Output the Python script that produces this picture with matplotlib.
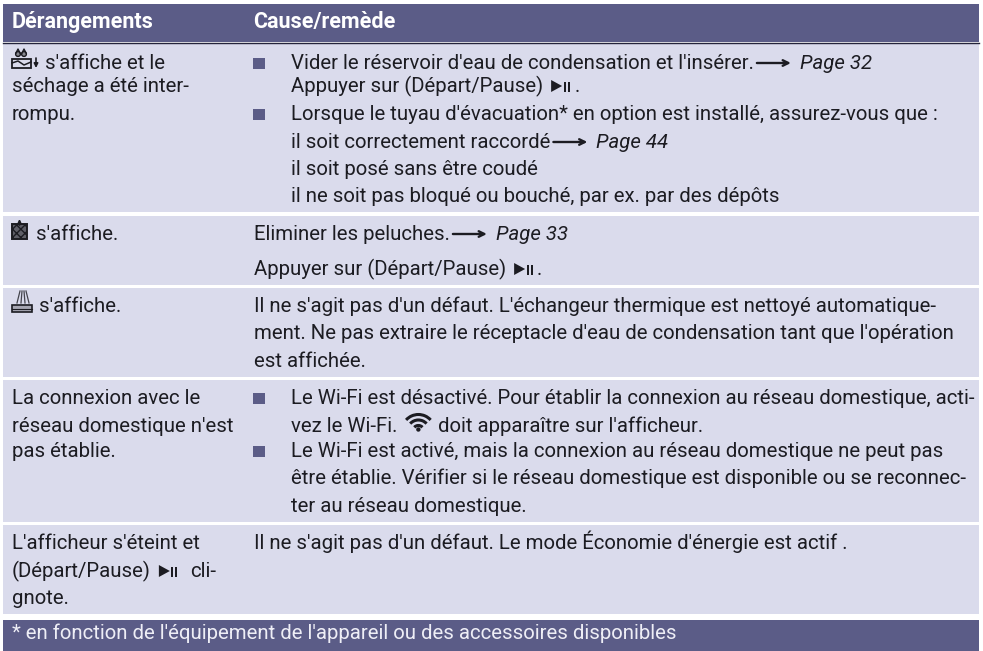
import matplotlib
matplotlib.use('Agg')
import matplotlib.pyplot as plt
from matplotlib.patches import Rectangle, Arc, Polygon, Circle

HEAD = '#5b5c87'
ROW = '#dadbec'
INK = '#1c1c22'
FONT = ['Roboto', 'Liberation Sans', 'DejaVu Sans']
SIZE = 14.7

headers = ['Dérangements', 'Cause/remède']
footnote = "* en fonction de l'équipement de l'appareil ou des accessoires disponibles"

# top and bottom of each table row
row_tops = [44, 216, 288, 380, 525]
row_bottoms = [212, 285, 377, 522, 614]

# first column: (baseline, text, x)
left_lines = [
    (69, "s'affiche et le", 45),
    (92, "séchage a été inter-", 12),
    (120, "rompu.", 12),
    (240, "s'affiche.", 36),
    (312, "s'affiche.", 39),
    (404, "La connexion avec le", 12),
    (432, "réseau domestique n'est", 12),
    (457, "pas établie.", 12),
    (549, "L'afficheur s'éteint et", 12),
    (604, "gnote.", 12),
]

# second column, x = 291 next to a bullet, 254 without
right_lines = [
    (120, "Lorsque le tuyau d'évacuation* en option est installé, assurez-vous que :", 291),
    (175, "il soit posé sans être coudé", 291),
    (202, "il ne soit pas bloqué ou bouché, par ex. par des dépôts", 291),
    (312, "Il ne s'agit pas d'un défaut. L'échangeur thermique est nettoyé automatique-", 254),
    (339, "ment. Ne pas extraire le réceptacle d'eau de condensation tant que l'opération", 254),
    (367, "est affichée.", 254),
    (404, "Le Wi-Fi est désactivé. Pour établir la connexion au réseau domestique, acti-", 291),
    (457, "Le Wi-Fi est activé, mais la connexion au réseau domestique ne peut pas", 291),
    (484, "être établie. Vérifier si le réseau domestique est disponible ou se reconnec-", 291),
    (512, "ter au réseau domestique.", 291),
    (549, "Il ne s'agit pas d'un défaut. Le mode Économie d'énergie est actif .", 254),
]

# lines ending in a cross reference: (baseline, text, x, page)
page_lines = [
    (69, "Vider le réservoir d'eau de condensation et l'insérer.", 291, 'Page 32'),
    (148, "il soit correctement raccordé", 291, 'Page 44'),
    (240, "Eliminer les peluches.", 254, 'Page 33'),
]

# lines with the start/pause sign: (baseline, before, x, after)
play_lines = [
    (92, "Appuyer sur (Départ/Pause)", 291, '.'),
    (275, "Appuyer sur (Départ/Pause)", 254, '.'),
    (577, "(Départ/Pause)", 12, 'cli-'),
]

bullet_y = [62, 113, 397, 450]

fig = plt.figure(figsize=(9.83, 6.51), dpi=100)
ax = fig.add_axes([0, 0, 1, 1])
ax.set_xlim(0, 983)
ax.set_ylim(651, 0)
ax.axis('off')
rend = fig.canvas.get_renderer()


def put(x, y, txt, **kw):
    t = ax.text(x, y, txt, color=kw.pop('color', INK), fontsize=kw.pop('fontsize', SIZE),
                family=FONT, **kw)
    return t.get_window_extent(rend).x1


ax.add_patch(Rectangle((3, 4), 976, 38, color=HEAD, lw=0))
ax.plot([3, 979], [42.5, 42.5], color='#23233a', lw=1)
for top, bottom in zip(row_tops, row_bottoms):
    ax.add_patch(Rectangle((3, top), 976, bottom - top, color=ROW, lw=0))
ax.add_patch(Rectangle((3, 620), 976, 31, color=HEAD, lw=0))

put(12, 28, headers[0], color='white', fontsize=15.5, fontweight='bold')
put(253, 28, headers[1], color='white', fontsize=15.5, fontweight='bold')

for y, txt, x in left_lines + right_lines:
    put(x, y, txt)

for y in bullet_y:
    ax.add_patch(Rectangle((253, y - 4), 12, 11, color=HEAD, lw=0))

for y, txt, x, page in page_lines:
    end = put(x, y, txt)
    ax.annotate('', xy=(end + 37, y - 6), xytext=(end + 3, y - 6),
                arrowprops=dict(arrowstyle='->', color=INK, lw=1.7, shrinkA=0, shrinkB=0))
    put(end + 46, y, page, style='italic')

# play/pause signs
for y, txt, x, after in play_lines:
    end = put(x, y, txt) + 8
    ax.add_patch(Polygon([(end, y - 12), (end, y), (end + 11, y - 6)], color=INK, lw=0))
    ax.add_patch(Rectangle((end + 12.5, y - 10), 2, 10, color=INK, lw=0))
    ax.add_patch(Rectangle((end + 16.5, y - 10), 2, 10, color=INK, lw=0))
    put(end + (23 if after == '.' else 31), y, after)

# display symbols in the first column
# condensate tank
ax.add_patch(Rectangle((12, 59), 19, 9, fc='none', ec=INK, lw=1.3))
ax.plot([12, 18, 24, 31], [63, 61, 65, 62], color=INK, lw=1.1)
for dx in (18, 24):
    ax.add_patch(Circle((dx, 54), 2.4, fc='#888890', ec=INK, lw=1))
    ax.plot([dx - 2, dx, dx + 2], [53, 49, 53], color=INK, lw=1)
ax.annotate('', xy=(36, 68), xytext=(36, 58),
            arrowprops=dict(arrowstyle='-|>', color=INK, lw=1.2, mutation_scale=6, shrinkA=0, shrinkB=0))
# filter
ax.add_patch(Rectangle((12, 224), 15, 15, fc='#5f5f68', ec=INK, lw=1.4, hatch='xxxx'))
ax.annotate('', xy=(19.5, 219), xytext=(19.5, 225),
            arrowprops=dict(arrowstyle='-|>', color=INK, lw=1.2, mutation_scale=6, shrinkA=0, shrinkB=0))
# heat exchanger
ax.add_patch(Rectangle((12, 305), 20, 7, fc='#a6a6b2', ec=INK, lw=1.2))
ax.plot([12, 32], [308.5, 308.5], color=INK, lw=0.8)
for x0, x1 in [(20, 17), (22, 21), (24, 25), (26, 29)]:
    ax.plot([x0, x1], [291, 303], color='#44444c', lw=0.9)

# wifi sign
end = put(291, 432, "vez le Wi-Fi.")
wx, wy = end + 21, 431
for d in (11, 22, 33):
    ax.add_patch(Arc((wx, wy), d, d, theta1=222, theta2=318, color=INK, lw=2.2))
ax.add_patch(Circle((wx, wy - 1.5), 2.2, color=INK, lw=0))
put(end + 41, 432, "doit apparaître sur l'afficheur.")

put(12, 639, footnote, color='#eeeef6')

fig.savefig('out.png', dpi=100)
